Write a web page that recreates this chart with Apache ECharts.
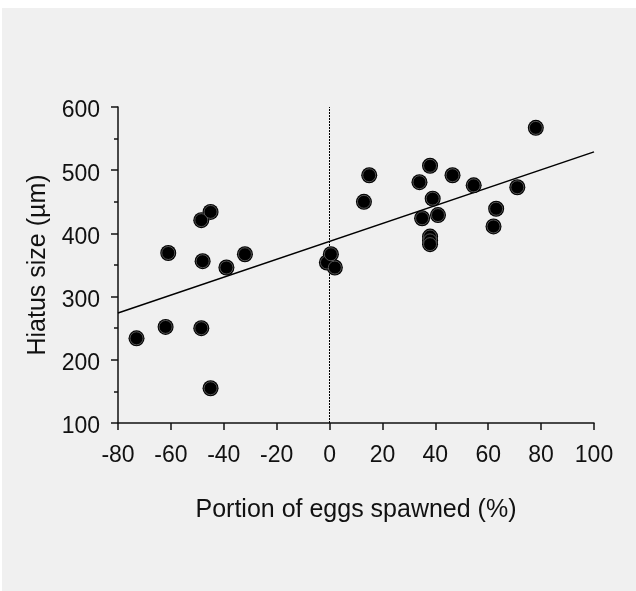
<!DOCTYPE html>
<html>
<head>
<meta charset="utf-8">
<script src="https://cdn.jsdelivr.net/npm/echarts@6/dist/echarts.min.js"></script>
<style>
html,body{margin:0;padding:0;background:#fff;}
#c{width:636px;height:591px;}
</style>
</head>
<body>
<div id="c"></div>
<script>
// Observed points: portion of eggs spawned (%) vs hiatus size (µm)
var spawnedPct = [-73, -62, -61, -48.5, -45, -48, -48.5, -45, -39, -32, -1, 0.5, 2, 13, 15, 34, 38, 46.5, 54.5, 71, 78, 39, 35, 41, 63, 62, 38, 38, 38];
var hiatusSize = [234, 252, 369, 421, 434, 356, 250, 155, 346, 367, 354, 367, 346, 450, 492, 481, 507, 492, 476, 473, 567, 455, 424, 429, 439, 411, 395, 389, 383];
// Regression line endpoints
var fitX = [-80, 100];
var fitY = [274, 529];
// Reference line position
var refX = [0];
// Axis ticks
var xTicks = [-80, -60, -40, -20, 0, 20, 40, 60, 80, 100];
var yTicks = [100, 200, 300, 400, 500, 600];

var points = spawnedPct.map(function (x, i) { return [x, hiatusSize[i]]; });
var fitLine = fitX.map(function (x, i) { return [x, fitY[i]]; });

var font = '"Liberation Sans", Arial, sans-serif';
var chart = echarts.init(document.getElementById('c'), null, {renderer: 'canvas'});
chart.setOption({
  animation: false,
  backgroundColor: '#ffffff',
  graphic: [{
    type: 'rect', silent: true, z: -10,
    shape: {x: 2, y: 8, width: 634, height: 583},
    style: {fill: '#f0f0f0'}
  }],
  grid: {left: 118, right: 42, top: 107, bottom: 168},
  xAxis: {
    type: 'value',
    min: xTicks[0], max: xTicks[xTicks.length - 1], interval: 20,
    name: 'Portion of eggs spawned (%)',
    nameLocation: 'middle', nameGap: 75,
    nameTextStyle: {fontFamily: font, fontSize: 25, color: '#111'},
    axisLine: {onZero: false, lineStyle: {color: '#111', width: 1.5}},
    axisTick: {show: true, length: 7, lineStyle: {color: '#111', width: 1.5}},
    axisLabel: {fontFamily: font, fontSize: 23, color: '#111', margin: 21},
    splitLine: {show: false}
  },
  yAxis: {
    type: 'value',
    min: yTicks[0], max: yTicks[yTicks.length - 1], interval: 100,
    name: 'Hiatus size (µm)',
    nameLocation: 'middle', nameGap: 65, nameRotate: 90,
    nameTextStyle: {fontFamily: font, fontSize: 25, color: '#111'},
    axisLine: {show: true, onZero: false, lineStyle: {color: '#111', width: 1.5}},
    axisTick: {show: true, length: 7, lineStyle: {color: '#111', width: 1.5}},
    minorTick: {show: true, splitNumber: 2, length: 4, lineStyle: {color: '#111', width: 1.5}},
    axisLabel: {fontFamily: font, fontSize: 23, color: '#111', margin: 18, verticalAlign: 'top', lineHeight: 8},
    splitLine: {show: false}
  },
  series: [
    {
      type: 'line',
      data: fitLine,
      symbol: 'none',
      lineStyle: {color: '#000', width: 1.5},
      z: 3,
      markLine: {
        silent: true,
        symbol: ['none', 'none'],
        label: {show: false},
        lineStyle: {color: '#000', width: 1, type: [2, 1]},
        data: refX.map(function (v) { return {xAxis: v}; })
      }
    },
    {
      type: 'scatter',
      data: points,
      symbol: 'circle',
      symbolSize: 16,
      itemStyle: {color: '#000', opacity: 1},
      z: 4
    },
    {
      type: 'scatter',
      data: points,
      symbol: 'circle',
      symbolSize: 13,
      itemStyle: {color: '#000', borderColor: '#6a6a6a', borderWidth: 0.8, opacity: 1},
      z: 5
    }
  ]
});
</script>
</body>
</html>
